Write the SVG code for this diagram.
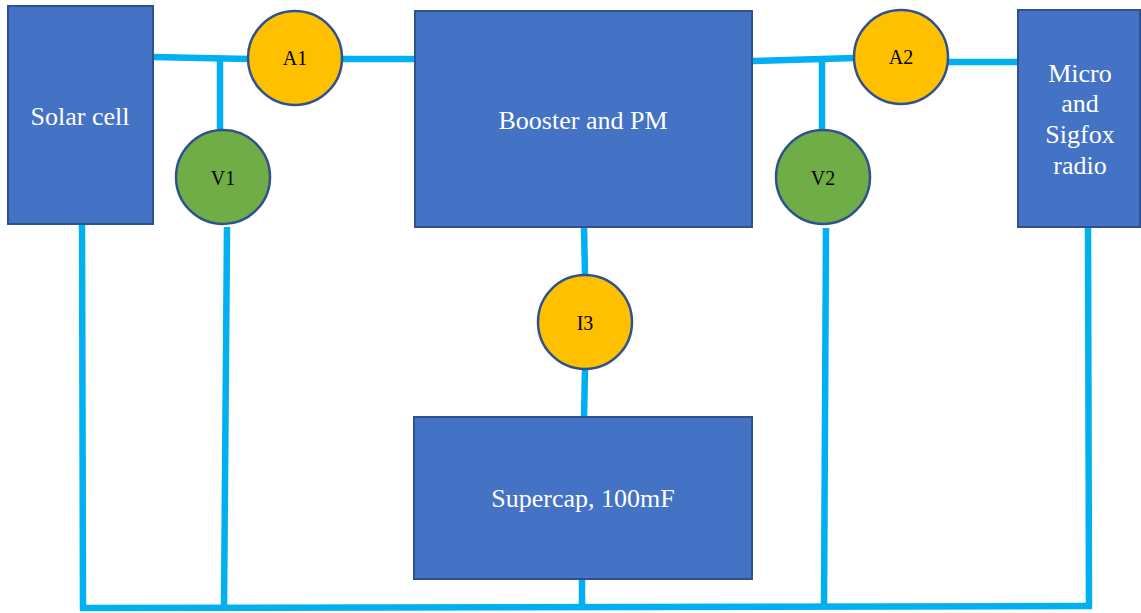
<svg xmlns="http://www.w3.org/2000/svg" width="1141" height="613" viewBox="0 0 1141 613">
<style>
.box{fill:#4472C4;stroke:#2F528F;stroke-width:2}
.amp{fill:#FFC000;stroke:#2F528F;stroke-width:2.5}
.volt{fill:#70AD47;stroke:#2F528F;stroke-width:2.5}
.wire{stroke:#00B0F0;stroke-width:6.5;fill:none;stroke-linecap:butt}
.bt{font-family:"Liberation Serif","Times New Roman",serif;font-size:26px;fill:#FFFFFF;text-anchor:middle}
.ct{font-family:"Liberation Serif","Times New Roman",serif;font-size:20px;fill:#000000;text-anchor:middle}
</style>
<rect width="1141" height="613" fill="#FFFFFF"/>
<g id="connectors">
<line class="wire" x1="153" y1="57" x2="250" y2="59"/>
<line class="wire" x1="220" y1="59" x2="220" y2="130"/>
<line class="wire" x1="342" y1="59" x2="416" y2="59"/>
<line class="wire" x1="752" y1="61" x2="855" y2="58"/>
<line class="wire" x1="822" y1="60" x2="822" y2="130"/>
<line class="wire" x1="948" y1="62" x2="1018" y2="62"/>
<line class="wire" x1="584" y1="227" x2="585" y2="275"/>
<line class="wire" x1="585" y1="369" x2="584" y2="418"/>
<line class="wire" x1="82" y1="224" x2="83" y2="610"/>
<line class="wire" x1="227" y1="227" x2="224" y2="607"/>
<line class="wire" x1="582" y1="579" x2="582" y2="607"/>
<line class="wire" x1="826" y1="228" x2="824" y2="607"/>
<line class="wire" x1="1088" y1="224" x2="1089" y2="607"/>
<line class="wire" x1="80" y1="608" x2="1092" y2="606"/>
</g>
<g id="solar">
<rect class="box" x="8" y="6" width="145" height="218"/>
<text class="bt" x="80" y="125">Solar cell</text>
</g>
<g id="booster">
<rect class="box" x="415" y="11" width="337" height="216"/>
<text class="bt" x="583" y="129">Booster and PM</text>
</g>
<g id="micro">
<rect class="box" x="1018" y="10" width="122" height="217"/>
<text class="bt" x="1080" y="82">Micro</text>
<text class="bt" x="1080" y="112">and</text>
<text class="bt" x="1080" y="143">Sigfox</text>
<text class="bt" x="1080" y="174">radio</text>
</g>
<g id="supercap">
<rect class="box" x="414" y="417" width="338" height="162"/>
<text class="bt" x="583" y="507">Supercap, 100mF</text>
</g>
<g id="A1">
<circle class="amp" cx="295" cy="58" r="47"/>
<text class="ct" x="295" y="65">A1</text>
</g>
<g id="V1">
<circle class="volt" cx="223" cy="177" r="47"/>
<text class="ct" x="223" y="185">V1</text>
</g>
<g id="A2">
<circle class="amp" cx="901" cy="57" r="47"/>
<text class="ct" x="901" y="64">A2</text>
</g>
<g id="V2">
<circle class="volt" cx="823" cy="177" r="47"/>
<text class="ct" x="823" y="185">V2</text>
</g>
<g id="I3">
<circle class="amp" cx="585" cy="322" r="47"/>
<text class="ct" x="585" y="330">I3</text>
</g>
</svg>
